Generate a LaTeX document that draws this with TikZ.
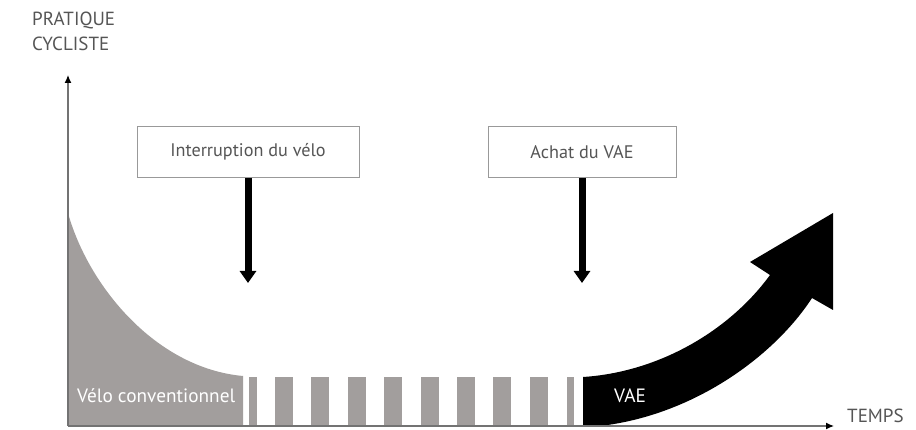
\documentclass[tikz,border=0pt]{standalone}
\usepackage{fontspec}
\setmainfont{PT Sans}
\usetikzlibrary{arrows.meta}
\definecolor{velogray}{HTML}{A29E9D}
\definecolor{textgray}{HTML}{555555}
\begin{document}
\begin{tikzpicture}
        [x=1pt, y=-1pt,
        event/.style={draw=black!40, line width=1pt, minimum width=222pt, minimum height=51pt,
          inner sep=0pt, text=textgray, font=\fontsize{18.2}{21}\selectfont},
        eventarrow/.style={line width=7pt, -{Triangle[width=16pt, length=12pt]}},
        axis/.style={draw=black!55, line width=1.2pt, -{Latex[black, length=8pt, width=7pt]}},
        axislabel/.style={text=textgray, font=\fontsize{19}{25}\selectfont, inner sep=0pt},
        inlabel/.style={text=white, font=\fontsize{19.3}{22}\selectfont, inner sep=0pt}]

        \useasboundingbox (0,0) rectangle (916,430);

        % conventional bike: decreasing practice
        \fill[velogray] (68,426) -- (68,213)
          .. controls (88,285) and (155,368) .. (243,376) -- (243,426) -- cycle;

        % interruption: stripes
        \fill[velogray] (249,377) rectangle (257,426);
        \foreach \k in {0,...,7}
          \fill[velogray] ({275+36.4*\k},377) rectangle ({293+36.4*\k},426);
        \fill[velogray] (567,377) rectangle (574,426);

        % electric bike: big arrow
        \fill[black] (583,426) -- (583,377)
          .. controls (660,372) and (730,330) .. (770,275)
          -- (750,262) -- (833,213) -- (833,310) -- (812,298)
          .. controls (775,355) and (695,415) .. (600,426) -- cycle;

        % axes
        \coordinate (o) at (68,426);
        \coordinate (ytop) at (68,75);
        \coordinate (xend) at (834,426);
        \draw[axis] (o) -- (ytop);
        \draw[axis] (o) -- (xend);
        \node[axislabel, anchor=north west, align=left] (ylab) at (32,12) {PRATIQUE\\CYCLISTE};
        \node[axislabel, anchor=west] (xlab) at (847,416) {TEMPS};

        % events
        \node[event] (interruption) at (248,152) {Interruption du vélo};
        \node[event, minimum width=188pt] (achat) at (582,152) {Achat du VAE};
        \coordinate (interruptionend) at (248,283);
        \coordinate (achatend) at (582,283);
        \draw[eventarrow] (interruption.south) -- (interruptionend);
        \draw[eventarrow] (achat.south) -- (achatend);

        % labels in the areas
        \node[inlabel, anchor=west] (velo) at (77,396) {Vélo conventionnel};
        \node[inlabel, anchor=west] (vae) at (614,396) {VAE};

    \end{tikzpicture}
\end{document}
